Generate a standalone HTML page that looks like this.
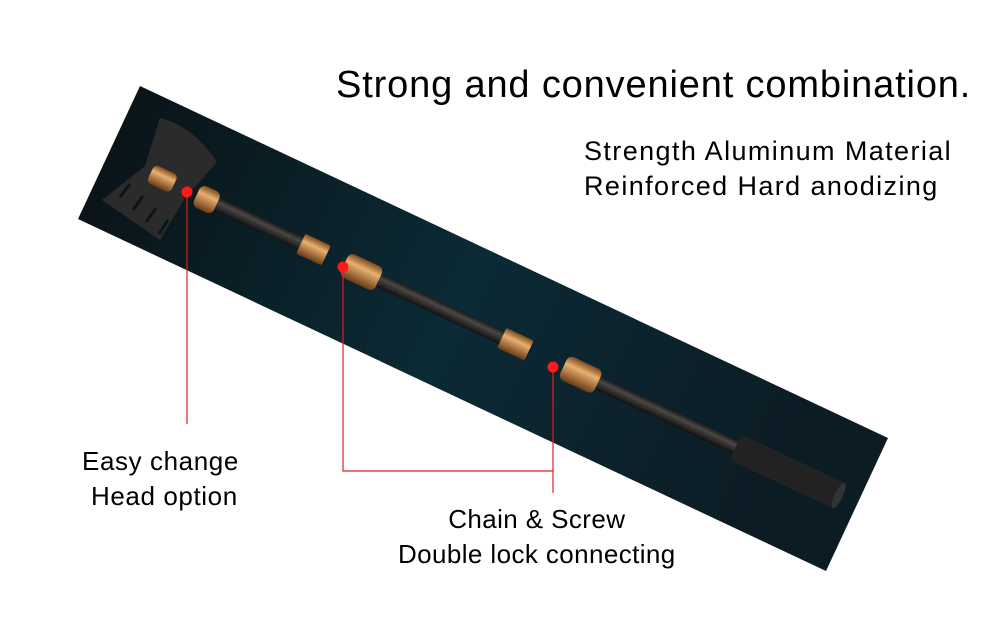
<!DOCTYPE html>
<html><head><style>
body{margin:0;width:1000px;height:630px;background:#fff;overflow:hidden;position:relative;font-family:"Liberation Sans",Arial,sans-serif;color:#000}
.t{position:absolute;white-space:nowrap}
</style></head><body>
<svg width="1000" height="630" style="position:absolute;left:0;top:0">
<defs>
<linearGradient id="bg" x1="0" y1="0" x2="1" y2="0.3">
<stop offset="0" stop-color="#0a1115"/><stop offset="0.55" stop-color="#0b2a35"/><stop offset="1" stop-color="#0c1c25"/>
</linearGradient>
<linearGradient id="tube" x1="0" y1="0" x2="0" y2="1">
<stop offset="0" stop-color="#1a1a1a"/><stop offset="0.35" stop-color="#4a4744"/><stop offset="1" stop-color="#111"/>
</linearGradient>
<linearGradient id="brass" x1="0" y1="0" x2="0" y2="1">
<stop offset="0" stop-color="#7a4a1c"/><stop offset="0.35" stop-color="#e8b070"/><stop offset="1" stop-color="#6a3c15"/>
</linearGradient>
</defs>
<polygon points="140,86 888,438 826,571 78,219" fill="url(#bg)"/>
<!-- head -->
<path d="M160,118 Q193,126 217,162 L185,198 L160,240 L102,200 L145,166 Z" fill="#2b2b2b"/>
<g stroke="#0d1418" stroke-width="3"><line x1="120" y1="197" x2="130" y2="184"/><line x1="133" y1="210" x2="143" y2="196"/><line x1="146" y1="222" x2="156" y2="208"/><line x1="159" y1="234" x2="168" y2="220"/></g>
<g transform="translate(165,180) rotate(25.1)">
<rect x="-16" y="-10" width="26" height="20" rx="5" fill="url(#brass)"/>
<rect x="45" y="-7" width="130" height="14" fill="url(#tube)"/>
<rect x="35" y="-12" width="22" height="24" rx="6" fill="url(#brass)"/>
<rect x="150" y="-11" width="28" height="22" rx="2" fill="url(#brass)"/>
<rect x="230" y="-7" width="170" height="14" fill="url(#tube)"/>
<rect x="198" y="-13" width="38" height="26" rx="6" fill="url(#brass)"/>
<rect x="372" y="-11" width="30" height="22" rx="2" fill="url(#brass)"/>
<rect x="470" y="-7" width="170" height="14" fill="url(#tube)"/>
<rect x="440" y="-13" width="38" height="26" rx="6" fill="url(#brass)"/>
<rect x="630" y="-14" width="115" height="28" rx="4" fill="#222"/>
<ellipse cx="744" cy="0" rx="4" ry="14" fill="#333"/>
</g>
<g stroke="#e02020" stroke-width="1.2" fill="none">
<line x1="187" y1="192" x2="187" y2="424"/>
<polyline points="343,267 343,471 553,471"/>
<line x1="553" y1="367" x2="553" y2="493"/>
</g>
<g fill="#ff1a1a"><circle cx="187" cy="192" r="5.5"/><circle cx="343" cy="267" r="5.5"/><circle cx="553" cy="367" r="5.5"/></g>
</svg>
<div class="t" style="left:336px;top:64px;font-size:38px;letter-spacing:0.85px">Strong and convenient combination.</div>
<div class="t" style="left:584px;top:134px;font-size:27px;line-height:35px;letter-spacing:1.4px">Strength Aluminum Material<br>Reinforced Hard anodizing</div>
<div class="t" style="left:82px;top:444px;font-size:26px;line-height:35px;text-align:center;letter-spacing:0.6px">Easy change<br>&nbsp;Head option</div>
<div class="t" style="left:398px;top:502px;font-size:26px;line-height:35px;text-align:center;letter-spacing:0.4px">Chain &amp; Screw<br>Double lock connecting</div>
</body></html>
